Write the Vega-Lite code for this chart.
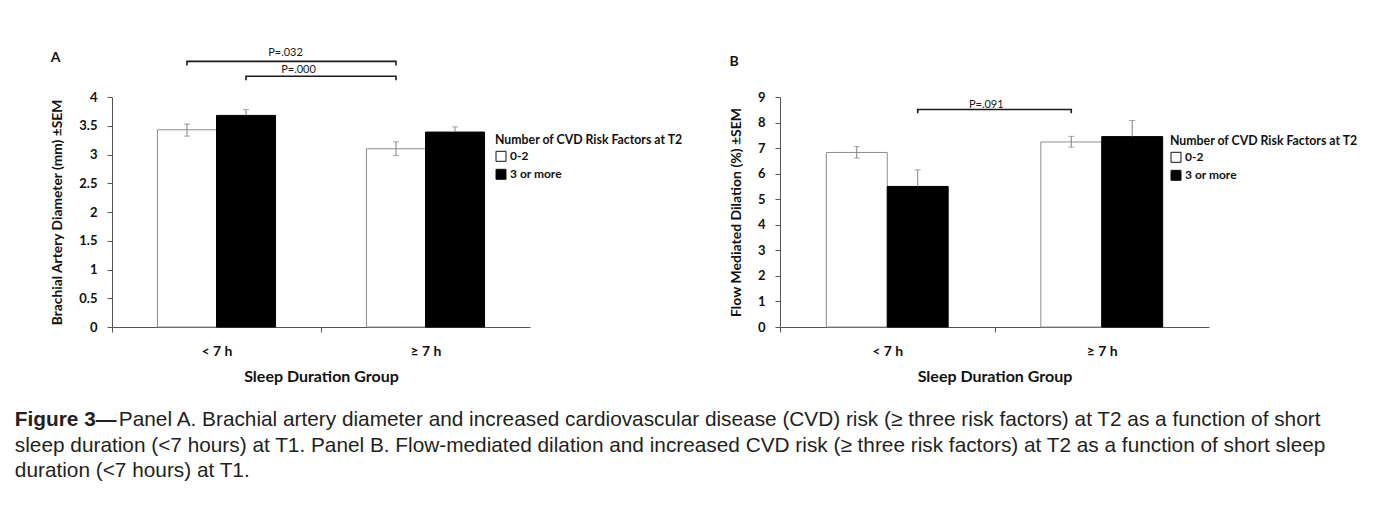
{
  "$schema": "https://vega.github.io/schema/vega-lite/v6.json",
  "background": "white",
  "autosize": {"type": "pad"},
  "padding": {"left": 14, "top": 46, "right": 0, "bottom": 0},
  "config": {
    "view": {"stroke": null},
    "axis": {
      "labelFont": "Lato", "labelFontWeight": "bold", "labelFontSize": 13, "labelColor": "#111",
      "titleFont": "Lato", "titleFontWeight": "bold", "titleFontSize": 14, "titleColor": "#111",
      "domainColor": "#555", "tickColor": "#555", "grid": false, "tickSize": 5, "labelOverlap": false
    },
    "legend": {
      "titleFont": "Lato", "titleFontWeight": "bold", "titleFontSize": 12.3, "titleColor": "#111", "titleLimit": 400,
      "labelFont": "Lato", "labelFontWeight": "bold", "labelFontSize": 12, "labelColor": "#111",
      "symbolType": "square", "symbolSize": 100, "symbolStrokeColor": "#111", "symbolStrokeWidth": 1,
      "rowPadding": 4, "labelOffset": 3, "titlePadding": 4
    },
    "title": {"font": "Lato", "fontWeight": "bold", "fontSize": 14, "color": "#111"}
  },
  "datasets": {
    "barsA": [
      {"sleep": "< 7 h", "risk": "0-2", "mean": 3.43, "lo": 3.32, "hi": 3.53},
      {"sleep": "< 7 h", "risk": "3 or more", "mean": 3.68, "lo": 3.58, "hi": 3.78},
      {"sleep": "≥ 7 h", "risk": "0-2", "mean": 3.10, "lo": 2.98, "hi": 3.22},
      {"sleep": "≥ 7 h", "risk": "3 or more", "mean": 3.39, "lo": 3.30, "hi": 3.48}
    ],
    "barsB": [
      {"sleep": "< 7 h", "risk": "0-2", "mean": 6.83, "lo": 6.61, "hi": 7.06},
      {"sleep": "< 7 h", "risk": "3 or more", "mean": 5.50, "lo": 4.85, "hi": 6.15},
      {"sleep": "≥ 7 h", "risk": "0-2", "mean": 7.24, "lo": 7.04, "hi": 7.46},
      {"sleep": "≥ 7 h", "risk": "3 or more", "mean": 7.45, "lo": 6.82, "hi": 8.08}
    ],
    "bracketsA": [
      {"b": "p032", "ord": 1, "sleep": "< 7 h", "risk": "0-2", "v": 4.55},
      {"b": "p032", "ord": 2, "sleep": "< 7 h", "risk": "0-2", "v": 4.62},
      {"b": "p032", "ord": 3, "sleep": "≥ 7 h", "risk": "0-2", "v": 4.62},
      {"b": "p032", "ord": 4, "sleep": "≥ 7 h", "risk": "0-2", "v": 4.55},
      {"b": "p000", "ord": 1, "sleep": "< 7 h", "risk": "3 or more", "v": 4.29},
      {"b": "p000", "ord": 2, "sleep": "< 7 h", "risk": "3 or more", "v": 4.36},
      {"b": "p000", "ord": 3, "sleep": "≥ 7 h", "risk": "0-2", "v": 4.36},
      {"b": "p000", "ord": 4, "sleep": "≥ 7 h", "risk": "0-2", "v": 4.29}
    ],
    "bracketsB": [
      {"b": "p091", "ord": 1, "sleep": "< 7 h", "risk": "3 or more", "v": 8.36},
      {"b": "p091", "ord": 2, "sleep": "< 7 h", "risk": "3 or more", "v": 8.51},
      {"b": "p091", "ord": 3, "sleep": "≥ 7 h", "risk": "0-2", "v": 8.51},
      {"b": "p091", "ord": 4, "sleep": "≥ 7 h", "risk": "0-2", "v": 8.36}
    ]
  },
  "title": {
    "text": "Figure 3—",
    "subtitle": [
      "\u200b\u00a0\u00a0\u00a0\u00a0\u00a0\u00a0\u00a0\u00a0\u00a0\u00a0\u00a0\u00a0\u00a0\u00a0\u00a0\u00a0\u00a0\u00a0Panel A. Brachial artery diameter and increased cardiovascular disease (CVD) risk (≥ three risk factors) at T2 as a function of short",
      "sleep duration (<7 hours) at T1. Panel B. Flow-mediated dilation and increased CVD risk (≥ three risk factors) at T2 as a function of short sleep",
      "duration (<7 hours) at T1."
    ],
    "orient": "bottom", "anchor": "start", "frame": "bounds", "dx": -36,
    "font": "Liberation Sans", "fontSize": 20.8, "fontWeight": "bold", "color": "#231f20",
    "subtitleFont": "Liberation Sans", "subtitleFontSize": 20.8, "subtitleFontWeight": "normal", "subtitleColor": "#231f20",
    "subtitleLineHeight": 25.5, "subtitlePadding": -20.8, "offset": 26
  },
  "spacing": 45,
  "resolve": {"scale": {"x": "independent", "y": "independent", "fill": "independent", "stroke": "independent", "xOffset": "independent"}, "legend": {"fill": "independent"}},
  "hconcat": [
    {
      "width": 418, "height": 230,
      "title": {"text": "A", "anchor": "start", "frame": "bounds", "offset": -18},
      "layer": [
        {
          "data": {"name": "barsA"},
          "mark": {"type": "bar", "strokeWidth": 1},
          "encoding": {
            "x": {"field": "sleep", "type": "nominal", "sort": ["< 7 h", "≥ 7 h"], "scale": {"paddingInner": 0.435, "paddingOuter": 0.2175},
                  "axis": {"title": "Sleep Duration Group", "titleFontSize": 16, "labelFontSize": 14, "labelAngle": 0, "bandPosition": 0, "tickOffset": -45.5, "labelOffset": 45.5, "labelPadding": 12, "titlePadding": 10}},
            "xOffset": {"field": "risk", "type": "nominal", "sort": ["0-2", "3 or more"], "scale": {"paddingInner": 0, "paddingOuter": 0}},
            "y": {"field": "mean", "type": "quantitative", "scale": {"domain": [0, 4], "nice": false},
                  "axis": {"title": "Brachial Artery Diameter (mm) ±SEM", "titleFontSize": 13.8, "values": [0, 0.5, 1, 1.5, 2, 2.5, 3, 3.5, 4], "labelOverlap": false, "format": "~g", "labelPadding": 10, "titlePadding": 14}},
            "fill": {"field": "risk", "type": "nominal", "sort": ["0-2", "3 or more"], "scale": {"range": ["#ffffff", "#000000"]},
                     "legend": {"title": "Number of CVD Risk Factors at T2", "orient": "none", "legendX": 383, "legendY": 37}},
            "stroke": {"field": "risk", "type": "nominal", "sort": ["0-2", "3 or more"], "scale": {"range": ["#8c8c8c", "#000000"]}, "legend": null}
          }
        },
        {
          "data": {"name": "barsA"},
          "transform": [{"filter": "datum.risk == '0-2'"}],
          "mark": {"type": "rule", "color": "#7f7f7f", "strokeWidth": 1},
          "encoding": {
            "x": {"field": "sleep", "type": "nominal", "sort": ["< 7 h", "≥ 7 h"]},
            "xOffset": {"field": "risk", "type": "nominal", "sort": ["0-2", "3 or more"]},
            "y": {"field": "lo", "type": "quantitative",
                  "axis": {"title": "Brachial Artery Diameter (mm) ±SEM", "titleFontSize": 13.8, "values": [0, 0.5, 1, 1.5, 2, 2.5, 3, 3.5, 4], "labelOverlap": false, "format": "~g", "labelPadding": 10, "titlePadding": 14}},
            "y2": {"field": "hi"}
          }
        },
        {
          "data": {"name": "barsA"},
          "transform": [{"filter": "datum.risk == '0-2'"}],
          "mark": {"type": "tick", "color": "#7f7f7f", "size": 6, "thickness": 1, "orient": "horizontal"},
          "encoding": {
            "x": {"field": "sleep", "type": "nominal", "sort": ["< 7 h", "≥ 7 h"]},
            "xOffset": {"field": "risk", "type": "nominal", "sort": ["0-2", "3 or more"]},
            "y": {"field": "lo", "type": "quantitative",
                  "axis": {"title": "Brachial Artery Diameter (mm) ±SEM", "titleFontSize": 13.8, "values": [0, 0.5, 1, 1.5, 2, 2.5, 3, 3.5, 4], "labelOverlap": false, "format": "~g", "labelPadding": 10, "titlePadding": 14}}
          }
        },
        {
          "data": {"name": "barsA"},
          "transform": [{"filter": "datum.risk == '3 or more'"}],
          "mark": {"type": "rule", "color": "#7f7f7f", "strokeWidth": 1},
          "encoding": {
            "x": {"field": "sleep", "type": "nominal", "sort": ["< 7 h", "≥ 7 h"]},
            "xOffset": {"field": "risk", "type": "nominal", "sort": ["0-2", "3 or more"]},
            "y": {"field": "mean", "type": "quantitative",
                  "axis": {"title": "Brachial Artery Diameter (mm) ±SEM", "titleFontSize": 13.8, "values": [0, 0.5, 1, 1.5, 2, 2.5, 3, 3.5, 4], "labelOverlap": false, "format": "~g", "labelPadding": 10, "titlePadding": 14}},
            "y2": {"field": "hi"}
          }
        },
        {
          "data": {"name": "barsA"},
          "mark": {"type": "tick", "color": "#7f7f7f", "size": 6, "thickness": 1, "orient": "horizontal"},
          "encoding": {
            "x": {"field": "sleep", "type": "nominal", "sort": ["< 7 h", "≥ 7 h"]},
            "xOffset": {"field": "risk", "type": "nominal", "sort": ["0-2", "3 or more"]},
            "y": {"field": "hi", "type": "quantitative",
                  "axis": {"title": "Brachial Artery Diameter (mm) ±SEM", "titleFontSize": 13.8, "values": [0, 0.5, 1, 1.5, 2, 2.5, 3, 3.5, 4], "labelOverlap": false, "format": "~g", "labelPadding": 10, "titlePadding": 14}}
          }
        },
        {
          "data": {"name": "bracketsA"},
          "mark": {"type": "line", "color": "#1a1a1a", "strokeWidth": 1.6, "clip": false},
          "encoding": {
            "x": {"field": "sleep", "type": "nominal", "sort": ["< 7 h", "≥ 7 h"]},
            "xOffset": {"field": "risk", "type": "nominal", "sort": ["0-2", "3 or more"]},
            "y": {"field": "v", "type": "quantitative",
                  "axis": {"title": "Brachial Artery Diameter (mm) ±SEM", "titleFontSize": 13.8, "values": [0, 0.5, 1, 1.5, 2, 2.5, 3, 3.5, 4], "labelOverlap": false, "format": "~g", "labelPadding": 10, "titlePadding": 14}},
            "detail": {"field": "b"},
            "order": {"field": "ord"}
          }
        },
        {
          "data": {"values": [{"sleep": "< 7 h", "label": "P=.032", "v": 4.72}]},
          "mark": {"type": "text", "font": "Lato", "fontSize": 11, "color": "#1a1a1a", "dx": 69, "baseline": "alphabetic", "clip": false},
          "encoding": {
            "x": {"field": "sleep", "type": "nominal", "sort": ["< 7 h", "≥ 7 h"]},
            "y": {"field": "v", "type": "quantitative",
                  "axis": {"title": "Brachial Artery Diameter (mm) ±SEM", "titleFontSize": 13.8, "values": [0, 0.5, 1, 1.5, 2, 2.5, 3, 3.5, 4], "labelOverlap": false, "format": "~g", "labelPadding": 10, "titlePadding": 14}},
            "text": {"field": "label"}
          }
        },
        {
          "data": {"values": [{"sleep": "< 7 h", "label": "P=.000", "v": 4.42}]},
          "mark": {"type": "text", "font": "Lato", "fontSize": 11, "color": "#1a1a1a", "dx": 82, "baseline": "alphabetic", "clip": false},
          "encoding": {
            "x": {"field": "sleep", "type": "nominal", "sort": ["< 7 h", "≥ 7 h"]},
            "y": {"field": "v", "type": "quantitative",
                  "axis": {"title": "Brachial Artery Diameter (mm) ±SEM", "titleFontSize": 13.8, "values": [0, 0.5, 1, 1.5, 2, 2.5, 3, 3.5, 4], "labelOverlap": false, "format": "~g", "labelPadding": 10, "titlePadding": 14}},
            "text": {"field": "label"}
          }
        }
      ]
    },
    {
      "width": 429, "height": 230,
      "title": {"text": "B", "anchor": "start", "frame": "bounds", "offset": 22},
      "layer": [
        {
          "data": {"name": "barsB"},
          "mark": {"type": "bar", "strokeWidth": 1},
          "encoding": {
            "x": {"field": "sleep", "type": "nominal", "sort": ["< 7 h", "≥ 7 h"], "scale": {"paddingInner": 0.432, "paddingOuter": 0.216},
                  "axis": {"title": "Sleep Duration Group", "titleFontSize": 16, "labelFontSize": 14, "labelAngle": 0, "bandPosition": 0, "tickOffset": -46.3, "labelOffset": 46.3, "labelPadding": 12, "titlePadding": 10}},
            "xOffset": {"field": "risk", "type": "nominal", "sort": ["0-2", "3 or more"], "scale": {"paddingInner": 0, "paddingOuter": 0}},
            "y": {"field": "mean", "type": "quantitative", "scale": {"domain": [0, 9], "nice": false},
                  "axis": {"title": "Flow Mediated Dilation (%) ±SEM", "titleFontSize": 14, "values": [0, 1, 2, 3, 4, 5, 6, 7, 8, 9], "labelOverlap": false, "labelPadding": 10, "titlePadding": 14}},
            "fill": {"field": "risk", "type": "nominal", "sort": ["0-2", "3 or more"], "scale": {"range": ["#ffffff", "#000000"]},
                     "legend": {"title": "Number of CVD Risk Factors at T2", "orient": "none", "legendX": 390, "legendY": 38}},
            "stroke": {"field": "risk", "type": "nominal", "sort": ["0-2", "3 or more"], "scale": {"range": ["#8c8c8c", "#000000"]}, "legend": null}
          }
        },
        {
          "data": {"name": "barsB"},
          "transform": [{"filter": "datum.risk == '0-2'"}],
          "mark": {"type": "rule", "color": "#7f7f7f", "strokeWidth": 1},
          "encoding": {
            "x": {"field": "sleep", "type": "nominal", "sort": ["< 7 h", "≥ 7 h"]},
            "xOffset": {"field": "risk", "type": "nominal", "sort": ["0-2", "3 or more"]},
            "y": {"field": "lo", "type": "quantitative",
                  "axis": {"title": "Flow Mediated Dilation (%) ±SEM", "titleFontSize": 14, "values": [0, 1, 2, 3, 4, 5, 6, 7, 8, 9], "labelOverlap": false, "labelPadding": 10, "titlePadding": 14}},
            "y2": {"field": "hi"}
          }
        },
        {
          "data": {"name": "barsB"},
          "transform": [{"filter": "datum.risk == '0-2'"}],
          "mark": {"type": "tick", "color": "#7f7f7f", "size": 6, "thickness": 1, "orient": "horizontal"},
          "encoding": {
            "x": {"field": "sleep", "type": "nominal", "sort": ["< 7 h", "≥ 7 h"]},
            "xOffset": {"field": "risk", "type": "nominal", "sort": ["0-2", "3 or more"]},
            "y": {"field": "lo", "type": "quantitative",
                  "axis": {"title": "Flow Mediated Dilation (%) ±SEM", "titleFontSize": 14, "values": [0, 1, 2, 3, 4, 5, 6, 7, 8, 9], "labelOverlap": false, "labelPadding": 10, "titlePadding": 14}}
          }
        },
        {
          "data": {"name": "barsB"},
          "transform": [{"filter": "datum.risk == '3 or more'"}],
          "mark": {"type": "rule", "color": "#7f7f7f", "strokeWidth": 1},
          "encoding": {
            "x": {"field": "sleep", "type": "nominal", "sort": ["< 7 h", "≥ 7 h"]},
            "xOffset": {"field": "risk", "type": "nominal", "sort": ["0-2", "3 or more"]},
            "y": {"field": "mean", "type": "quantitative",
                  "axis": {"title": "Flow Mediated Dilation (%) ±SEM", "titleFontSize": 14, "values": [0, 1, 2, 3, 4, 5, 6, 7, 8, 9], "labelOverlap": false, "labelPadding": 10, "titlePadding": 14}},
            "y2": {"field": "hi"}
          }
        },
        {
          "data": {"name": "barsB"},
          "mark": {"type": "tick", "color": "#7f7f7f", "size": 6, "thickness": 1, "orient": "horizontal"},
          "encoding": {
            "x": {"field": "sleep", "type": "nominal", "sort": ["< 7 h", "≥ 7 h"]},
            "xOffset": {"field": "risk", "type": "nominal", "sort": ["0-2", "3 or more"]},
            "y": {"field": "hi", "type": "quantitative",
                  "axis": {"title": "Flow Mediated Dilation (%) ±SEM", "titleFontSize": 14, "values": [0, 1, 2, 3, 4, 5, 6, 7, 8, 9], "labelOverlap": false, "labelPadding": 10, "titlePadding": 14}}
          }
        },
        {
          "data": {"name": "bracketsB"},
          "mark": {"type": "line", "color": "#1a1a1a", "strokeWidth": 1.6, "clip": false},
          "encoding": {
            "x": {"field": "sleep", "type": "nominal", "sort": ["< 7 h", "≥ 7 h"]},
            "xOffset": {"field": "risk", "type": "nominal", "sort": ["0-2", "3 or more"]},
            "y": {"field": "v", "type": "quantitative",
                  "axis": {"title": "Flow Mediated Dilation (%) ±SEM", "titleFontSize": 14, "values": [0, 1, 2, 3, 4, 5, 6, 7, 8, 9], "labelOverlap": false, "labelPadding": 10, "titlePadding": 14}},
            "detail": {"field": "b"},
            "order": {"field": "ord"}
          }
        },
        {
          "data": {"values": [{"sleep": "< 7 h", "label": "P=.091", "v": 8.58}]},
          "mark": {"type": "text", "font": "Lato", "fontSize": 11, "color": "#1a1a1a", "dx": 99, "baseline": "alphabetic", "clip": false},
          "encoding": {
            "x": {"field": "sleep", "type": "nominal", "sort": ["< 7 h", "≥ 7 h"]},
            "y": {"field": "v", "type": "quantitative",
                  "axis": {"title": "Flow Mediated Dilation (%) ±SEM", "titleFontSize": 14, "values": [0, 1, 2, 3, 4, 5, 6, 7, 8, 9], "labelOverlap": false, "labelPadding": 10, "titlePadding": 14}},
            "text": {"field": "label"}
          }
        }
      ]
    }
  ]
}
